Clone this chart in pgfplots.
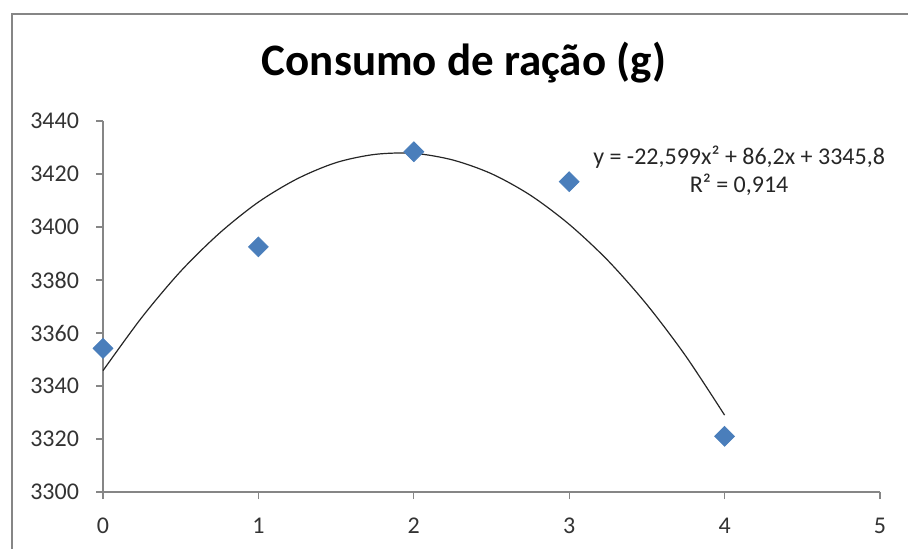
\documentclass[border=0pt]{standalone}
\usepackage{fontspec}
\setmainfont{Carlito}
\usepackage{pgfplots}
\pgfplotsset{compat=1.18}
\definecolor{exblue}{HTML}{4A7EBB}
\definecolor{exgray}{HTML}{868686}
\begin{document}
\begin{tikzpicture}
\useasboundingbox (0,0) rectangle (454pt,-274.5pt);
% chart area border (only top and left are visible in the crop)
\draw[exgray, line width=1pt] (6pt,-274.5pt) -- (6pt,-7pt) -- (454pt,-7pt);
\node[font=\bfseries\fontsize{22.5}{26}\selectfont, anchor=base] at (232pt,-38pt) {Consumo de ração (g)};
\begin{axis}[
  at={(51.5pt,-246pt)}, anchor=south west,
  scale only axis, width=388.5pt, height=185.5pt,
  xmin=0, xmax=5, ymin=3300, ymax=3440,
  xtick={0,...,5}, ytick={3300,3320,...,3440},
  axis x line=bottom, axis y line=left,
  x axis line style={-}, y axis line style={-},
  axis line style={exgray, line width=0.6pt},
  tick style={exgray, line width=0.6pt},
  major tick length=3.5pt, tick align=outside,
  ticklabel style={font=\fontsize{12}{14}\selectfont, text=black!80},
  xticklabel style={yshift=-6pt},
  yticklabel style={xshift=-5pt},
  /pgf/number format/assume math mode=true,
  /pgf/number format/set thousands separator={},
  clip=false,
]
\addplot[only marks, mark=square*, mark size=3.5pt,
  mark options={rotate=45, fill=exblue, draw=exblue}]
  coordinates {(0,3354.2) (1,3392.5) (2,3428.4) (3,3417.1) (4,3321.0)};
% polynomial trendline, values
\addplot[black!85, line width=0.6pt, smooth, no markers] coordinates {
  (0,3345.8) (0.25,3365.9) (0.5,3383.3) (0.75,3397.7) (1,3409.4)
  (1.25,3418.2) (1.5,3424.3) (1.75,3427.4) (2,3427.8) (2.25,3425.3)
  (2.5,3420.1) (2.75,3412.0) (3,3401.0) (3.25,3387.3) (3.5,3370.7)
  (3.75,3351.3) (4,3329.0)};
\node[align=center, font=\fontsize{12}{14}\selectfont, text=black!85]
  at (axis cs:4.093,3421.1) {y = -22,599x² + 86,2x + 3345,8\\R² = 0,914};
\end{axis}
\end{tikzpicture}
\end{document}
